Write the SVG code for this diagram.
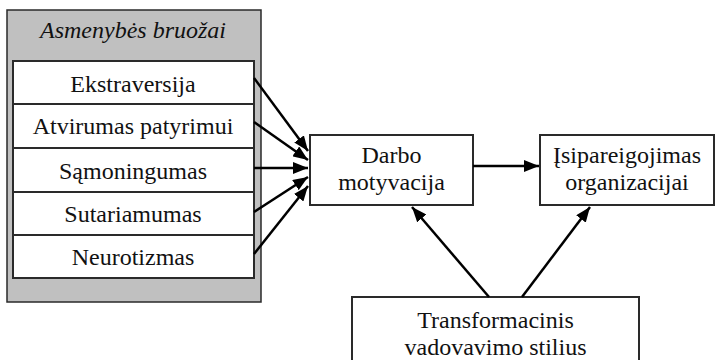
<svg xmlns="http://www.w3.org/2000/svg" width="716" height="360" viewBox="0 0 716 360">
<style>
.box{fill:#fff;stroke:#2a2a2a;stroke-width:2}
.t{font-family:"Liberation Serif","Times New Roman",serif;font-size:24px;fill:#111;text-anchor:middle}
.c{stroke:#000;stroke-width:2.5;fill:none;marker-end:url(#ah)}
</style>
<defs>
<marker id="ah" markerUnits="userSpaceOnUse" markerWidth="16" markerHeight="12" refX="15" refY="6" orient="auto">
<path d="M0,0 L15,6 L0,12 z" fill="#000"/>
</marker>
</defs>
<rect width="716" height="360" fill="#fff"/>
<g id="traits">
<rect x="7" y="10" width="254" height="292" fill="#c0c0c0" stroke="#2a2a2a" stroke-width="1.5"/>
<text class="t" x="133" y="38" font-style="italic">Asmenybės bruožai</text>
<g id="ekstraversija"><rect class="box" x="13" y="61" width="241" height="43"/><text class="t" x="133" y="92">Ekstraversija</text></g>
<g id="atvirumas"><rect class="box" x="13" y="104" width="241" height="44"/><text class="t" x="133" y="134">Atvirumas patyrimui</text></g>
<g id="samoningumas"><rect class="box" x="13" y="148" width="241" height="44"/><text class="t" x="133" y="179">Sąmoningumas</text></g>
<g id="sutariamumas"><rect class="box" x="13" y="192" width="241" height="43"/><text class="t" x="133" y="222">Sutariamumas</text></g>
<g id="neurotizmas"><rect class="box" x="13" y="235" width="241" height="43"/><text class="t" x="133" y="265">Neurotizmas</text></g>
</g>
<g id="darbo">
<rect class="box" x="310" y="135" width="163" height="70"/>
<text class="t" x="391.5" y="163">Darbo</text>
<text class="t" x="391.5" y="190">motyvacija</text>
</g>
<g id="isipareigojimas">
<rect class="box" x="540" y="135" width="174" height="70"/>
<text class="t" x="627" y="163">Įsipareigojimas</text>
<text class="t" x="627" y="190">organizacijai</text>
</g>
<g id="transformacinis">
<rect class="box" x="352" y="297" width="287" height="70"/>
<text class="t" x="495.5" y="328">Transformacinis</text>
<text class="t" x="495.5" y="355">vadovavimo stilius</text>
</g>
<g id="connectors">
<line class="c" x1="254" y1="78" x2="308" y2="151"/>
<line class="c" x1="254" y1="122" x2="308" y2="160"/>
<line class="c" x1="254" y1="168" x2="308" y2="168"/>
<line class="c" x1="254" y1="212" x2="308" y2="177"/>
<line class="c" x1="254" y1="254" x2="308" y2="186"/>
<line class="c" x1="473" y1="166" x2="539" y2="166"/>
<line class="c" x1="489" y1="297" x2="412" y2="207"/>
<line class="c" x1="522" y1="297" x2="590" y2="207"/>
</g>
</svg>
